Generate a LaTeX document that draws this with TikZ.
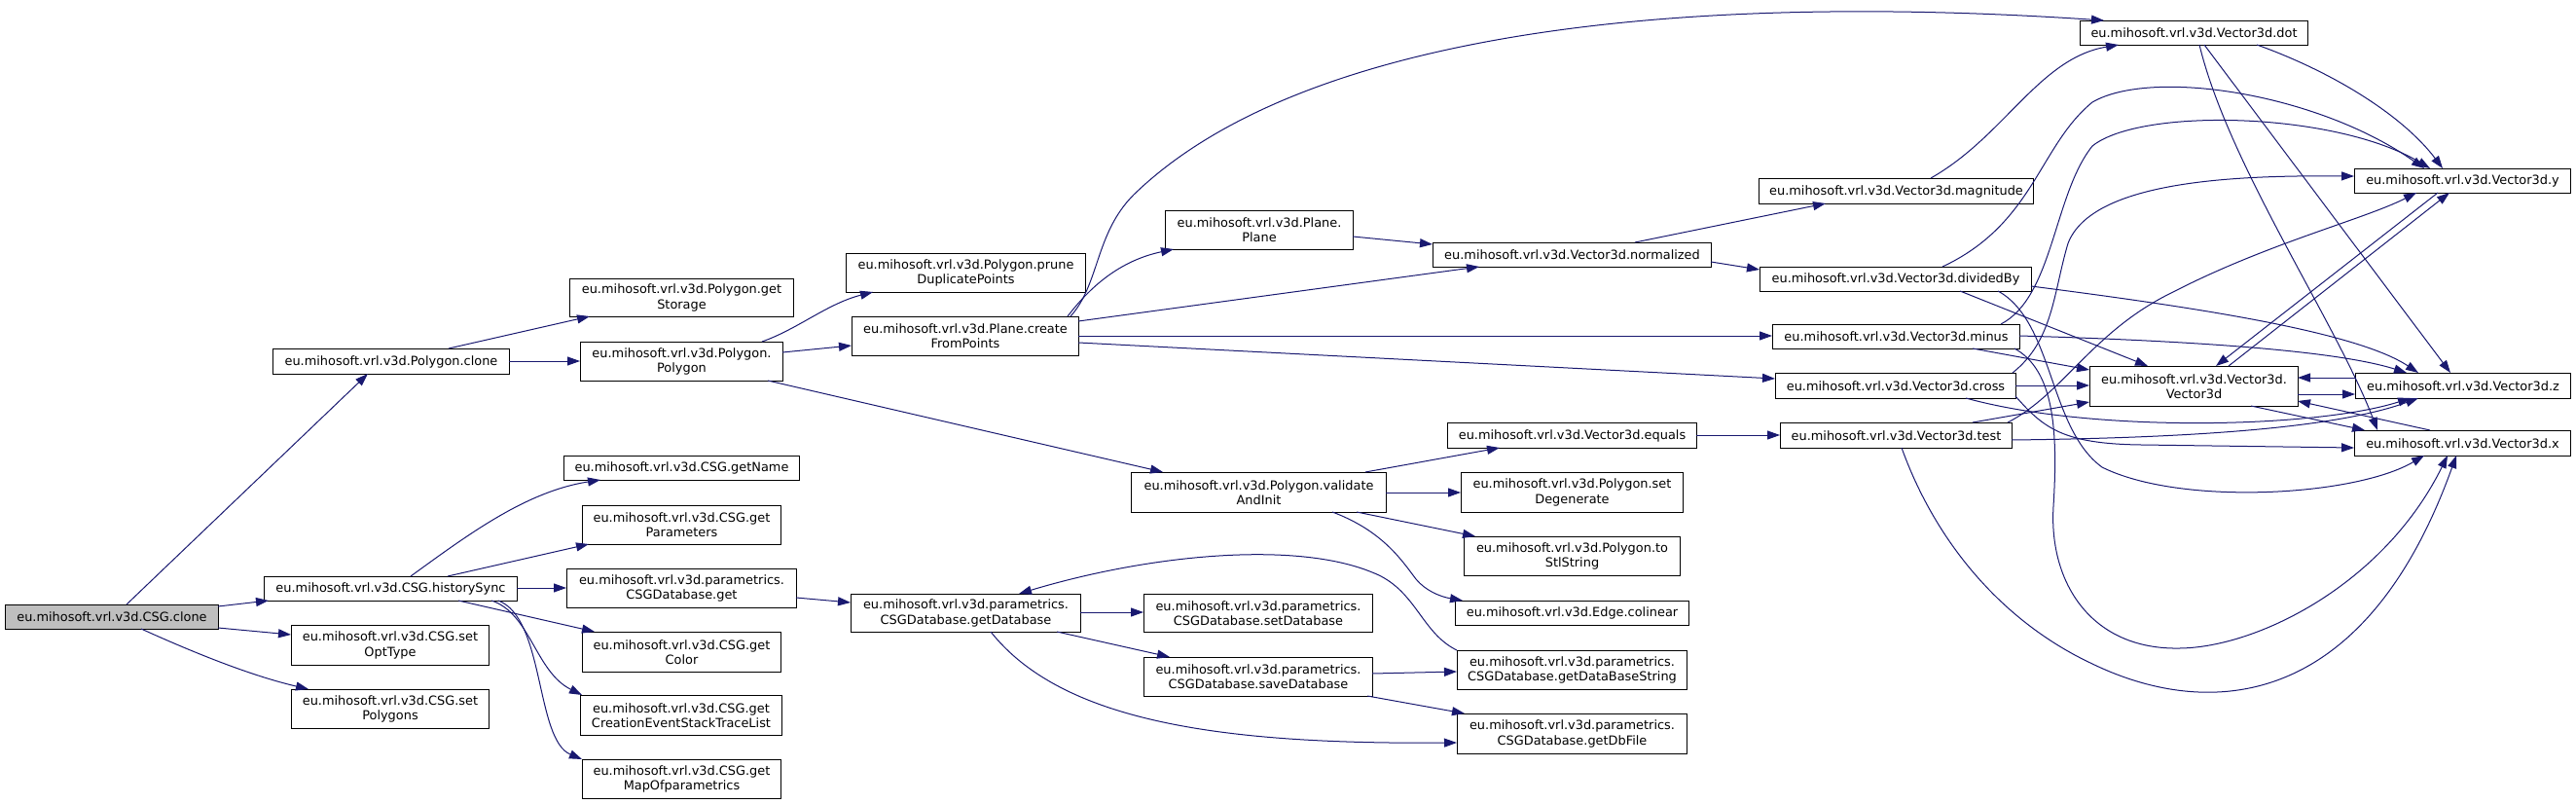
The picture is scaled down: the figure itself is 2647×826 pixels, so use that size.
\documentclass[tikz,border=0pt]{standalone}
\usepackage{fontspec}
\setmainfont{DejaVu Sans}
\usetikzlibrary{arrows.meta,calc}
\definecolor{edgeblue}{HTML}{191970}
\definecolor{rootgray}{HTML}{BFBFBF}
\begin{document}
\begin{tikzpicture}[x=1pt,y=-1pt,
  box/.style={draw=black, line width=1pt, fill=white, inner sep=0pt, align=center, anchor=north west, font=\fontsize{12.9}{15.3}\selectfont},
  root/.style={box, fill=rootgray},
  edge/.style={draw=edgeblue, line width=1pt, -{Triangle[length=13pt,width=9pt]}}]
\useasboundingbox (0,0) rectangle (2647,826);

% nodes
\node[root, minimum width=219pt, minimum height=25pt] (csgclone) at (5,621) {eu.mihosoft.vrl.v3d.CSG.clone};
\node[box, minimum width=243pt, minimum height=26pt] (polyclone) at (280,358) {eu.mihosoft.vrl.v3d.Polygon.clone};
\node[box, minimum width=260pt, minimum height=25pt] (hist) at (271,592) {eu.mihosoft.vrl.v3d.CSG.historySync};
\node[box, minimum width=203pt, minimum height=41pt] (setopt) at (299,642) {eu.mihosoft.vrl.v3d.CSG.set\\OptType};
\node[box, minimum width=203pt, minimum height=40pt] (setpoly) at (299,708) {eu.mihosoft.vrl.v3d.CSG.set\\Polygons};
\node[box, minimum width=230pt, minimum height=39pt] (getstorage) at (585,286) {eu.mihosoft.vrl.v3d.Polygon.get\\Storage};
\node[box, minimum width=208pt, minimum height=40pt] (polypoly) at (596,351) {eu.mihosoft.vrl.v3d.Polygon.\\Polygon};
\node[box, minimum width=246pt, minimum height=40pt] (prune) at (869,260) {eu.mihosoft.vrl.v3d.Polygon.prune\\DuplicatePoints};
\node[box, minimum width=233pt, minimum height=40pt] (create) at (875,325) {eu.mihosoft.vrl.v3d.Plane.create\\FromPoints};
\node[box, minimum width=262pt, minimum height=41pt] (validate) at (1162,485) {eu.mihosoft.vrl.v3d.Polygon.validate\\AndInit};
\node[box, minimum width=193pt, minimum height=40pt] (plane) at (1197,216) {eu.mihosoft.vrl.v3d.Plane.\\Plane};
\node[box, minimum width=286pt, minimum height=25pt] (normalized) at (1472,249) {eu.mihosoft.vrl.v3d.Vector3d.normalized};
\node[box, minimum width=282pt, minimum height=26pt] (magnitude) at (1807,183) {eu.mihosoft.vrl.v3d.Vector3d.magnitude};
\node[box, minimum width=279pt, minimum height=25pt] (dividedby) at (1808,274) {eu.mihosoft.vrl.v3d.Vector3d.dividedBy};
\node[box, minimum width=254pt, minimum height=25pt] (minus) at (1821,333) {eu.mihosoft.vrl.v3d.Vector3d.minus};
\node[box, minimum width=247pt, minimum height=26pt] (cross) at (1824,383) {eu.mihosoft.vrl.v3d.Vector3d.cross};
\node[box, minimum width=238pt, minimum height=26pt] (test) at (1829,434) {eu.mihosoft.vrl.v3d.Vector3d.test};
\node[box, minimum width=256pt, minimum height=26pt] (equals) at (1487,434) {eu.mihosoft.vrl.v3d.Vector3d.equals};
\node[box, minimum width=228pt, minimum height=41pt] (setdegen) at (1501,485) {eu.mihosoft.vrl.v3d.Polygon.set\\Degenerate};
\node[box, minimum width=222pt, minimum height=40pt] (tostl) at (1504,551) {eu.mihosoft.vrl.v3d.Polygon.to\\StlString};
\node[box, minimum width=240pt, minimum height=25pt] (colinear) at (1495,617) {eu.mihosoft.vrl.v3d.Edge.colinear};
\node[box, minimum width=234pt, minimum height=25pt] (dot) at (2137,21) {eu.mihosoft.vrl.v3d.Vector3d.dot};
\node[box, minimum width=222pt, minimum height=25pt] (vy) at (2419,173) {eu.mihosoft.vrl.v3d.Vector3d.y};
\node[box, minimum width=214pt, minimum height=41pt] (vconst) at (2147,376) {eu.mihosoft.vrl.v3d.Vector3d.\\Vector3d};
\node[box, minimum width=221pt, minimum height=26pt] (vz) at (2420,383) {eu.mihosoft.vrl.v3d.Vector3d.z};
\node[box, minimum width=222pt, minimum height=26pt] (vx) at (2419,442) {eu.mihosoft.vrl.v3d.Vector3d.x};
\node[box, minimum width=242pt, minimum height=25pt] (getname) at (579,468) {eu.mihosoft.vrl.v3d.CSG.getName};
\node[box, minimum width=204pt, minimum height=40pt] (getparams) at (598,519) {eu.mihosoft.vrl.v3d.CSG.get\\Parameters};
\node[box, minimum width=236pt, minimum height=40pt] (dbget) at (582,584) {eu.mihosoft.vrl.v3d.parametrics.\\CSGDatabase.get};
\node[box, minimum width=204pt, minimum height=41pt] (getcolor) at (598,649) {eu.mihosoft.vrl.v3d.CSG.get\\Color};
\node[box, minimum width=207pt, minimum height=41pt] (getcreation) at (596,714) {eu.mihosoft.vrl.v3d.CSG.get\\CreationEventStackTraceList};
\node[box, minimum width=204pt, minimum height=40pt] (getmap) at (598,780) {eu.mihosoft.vrl.v3d.CSG.get\\MapOfparametrics};
\node[box, minimum width=236pt, minimum height=39pt] (getdatabase) at (874,610) {eu.mihosoft.vrl.v3d.parametrics.\\CSGDatabase.getDatabase};
\node[box, minimum width=235pt, minimum height=39pt] (setdatabase) at (1175,610) {eu.mihosoft.vrl.v3d.parametrics.\\CSGDatabase.setDatabase};
\node[box, minimum width=235pt, minimum height=40pt] (savedatabase) at (1175,675) {eu.mihosoft.vrl.v3d.parametrics.\\CSGDatabase.saveDatabase};
\node[box, minimum width=236pt, minimum height=40pt] (getdbstring) at (1497,668) {eu.mihosoft.vrl.v3d.parametrics.\\CSGDatabase.getDataBaseString};
\node[box, minimum width=236pt, minimum height=41pt] (getdbfile) at (1497,733) {eu.mihosoft.vrl.v3d.parametrics.\\CSGDatabase.getDbFile};

% edges from CSG.clone
\draw[edge] ($(csgclone.north west)+(125,0)$) -- ($(polyclone.north west)+(98,26)$);
\draw[edge] ($(csgclone.north west)+(219,2)$) -- ($(hist.north west)+(5,25)$);
\draw[edge] ($(csgclone.north west)+(219,24)$) -- ($(setopt.north west)+(0,10)$);
\draw[edge] ($(csgclone.north west)+(140,25)$) .. controls (220,680) and (270,697) .. ($(setpoly.north west)+(18,0)$);

% Polygon.clone
\draw[edge] ($(polyclone.north west)+(181,0)$) -- ($(getstorage.north west)+(21,39)$);
\draw[edge] ($(polyclone.north west)+(243,13)$) -- ($(polypoly.north west)+(0,20)$);

% Polygon.Polygon
\draw[edge] ($(polypoly.north west)+(187,0)$) .. controls (820,338) and (850,312) .. ($(prune.north west)+(28,40)$);
\draw[edge] ($(polypoly.north west)+(208,11)$) -- ($(create.north west)+(0,30)$);
\draw[edge] ($(polypoly.north west)+(193,40)$) -- ($(validate.north west)+(33,0)$);

% Plane.createFromPoints
\draw[edge] ($(create.north west)+(222,0)$) .. controls (1120,295) and (1150,268) .. ($(plane.north west)+(9,40)$);
\draw[edge] ($(create.north west)+(225,0)$) .. controls (1130,292) and (1125,240) .. (1165,200)
  .. controls (1330,40) and (1700,-10) .. ($(dot.north west)+(25,0)$);
\draw[edge] ($(create.north west)+(233,5)$) -- ($(normalized.north west)+(48,25)$);
\draw[edge] ($(create.north west)+(233,20)$) -- ($(minus.north west)+(0,12)$);
\draw[edge] ($(create.north west)+(233,27)$) -- ($(cross.north west)+(0,6)$);

% Plane.Plane
\draw[edge] ($(plane.north west)+(193,27)$) -- ($(normalized.north west)+(0,2)$);

% normalized
\draw[edge] ($(normalized.north west)+(208,0)$) -- ($(magnitude.north west)+(69,26)$);
\draw[edge] ($(normalized.north west)+(286,20)$) -- ($(dividedby.north west)+(0,3)$);

% magnitude
\draw[edge] ($(magnitude.north west)+(177,0)$) .. controls (2060,140) and (2095,60) .. ($(dot.north west)+(40,25)$);

% dot
\draw[edge] ($(dot.north west)+(182,25)$) .. controls (2400,75) and (2470,120) .. ($(vy.north west)+(91,0)$);
\draw[edge] ($(dot.north west)+(123,25)$) .. controls (2290,170) and (2400,330) .. ($(vx.north west)+(24,0)$);
\draw[edge] ($(dot.north west)+(128,25)$) -- ($(vz.north west)+(98,0)$);

% dividedBy
\draw[edge] ($(dividedby.north west)+(188,0)$) .. controls (2090,230) and (2095,150) .. (2150,105)
  .. controls (2210,70) and (2380,95) .. ($(vy.north west)+(72,0)$);
\draw[edge] ($(dividedby.north west)+(206,25)$) -- ($(vconst.north west)+(60,0)$);
\draw[edge] ($(dividedby.north west)+(279,20)$) .. controls (2250,315) and (2420,340) .. ($(vz.north west)+(65,0)$);
\draw[edge] ($(dividedby.north west)+(245,25)$) .. controls (2110,330) and (2105,440) .. (2160,480)
  .. controls (2240,520) and (2420,510) .. ($(vx.north west)+(72,26)$);

% minus
\draw[edge] ($(minus.north west)+(235,0)$) .. controls (2110,305) and (2110,200) .. (2150,150)
  .. controls (2200,110) and (2400,115) .. ($(vy.north west)+(78,0)$);
\draw[edge] ($(minus.north west)+(206,25)$) -- ($(vconst.north west)+(0,4)$);
\draw[edge] ($(minus.north west)+(254,12)$) .. controls (2250,350) and (2400,360) .. ($(vz.north west)+(53,0)$);
\draw[edge] ($(minus.north west)+(249,25)$) .. controls (2110,380) and (2115,440) .. (2110,520)
  .. controls (2105,600) and (2150,668) .. (2240,666)
  .. controls (2320,665) and (2450,600) .. ($(vx.north west)+(96,26)$);

% cross
\draw[edge] ($(cross.north west)+(247,13)$) -- ($(vconst.north west)+(0,20)$);
\draw[edge] ($(cross.north west)+(244,0)$) .. controls (2110,350) and (2110,300) .. (2125,250)
  .. controls (2150,185) and (2300,180) .. ($(vy.north west)+(0,8)$);
\draw[edge] ($(cross.north west)+(196,26)$) .. controls (2150,445) and (2380,440) .. ($(vz.north west)+(57,26)$);
\draw[edge] ($(cross.north west)+(247,24)$) .. controls (2100,440) and (2120,456) .. (2200,457) -- ($(vx.north west)+(0,18)$);

% test
\draw[edge] ($(test.north west)+(198,0)$) -- ($(vconst.north west)+(0,37)$);
\draw[edge] ($(test.north west)+(234,0)$) .. controls (2120,405) and (2150,340) .. (2233,300)
  .. controls (2330,250) and (2430,225) .. ($(vy.north west)+(64,25)$);
\draw[edge] ($(test.north west)+(238,18)$) .. controls (2250,450) and (2400,440) .. ($(vz.north west)+(65,26)$);
\draw[edge] ($(test.north west)+(125,26)$) .. controls (1990,560) and (2060,640) .. (2150,682)
  .. controls (2270,740) and (2430,730) .. ($(vx.north west)+(105,26)$);

% Vector3d constructor and accessors
\draw[edge] ($(vy.north west)+(86,25)$) -- ($(vconst.north west)+(130,0)$);
\draw[edge] ($(vconst.north west)+(143,0)$) -- ($(vy.north west)+(98,25)$);
\draw[edge] ($(vz.north west)+(0,5)$) -- ($(vconst.north west)+(214,12)$);
\draw[edge] ($(vconst.north west)+(214,29)$) -- ($(vz.north west)+(0,22)$);
\draw[edge] ($(vconst.north west)+(166,41)$) -- ($(vx.north west)+(11,0)$);
\draw[edge] ($(vx.north west)+(78,0)$) -- ($(vconst.north west)+(214,36)$);

% validateAndInit
\draw[edge] ($(validate.north west)+(241,0)$) -- ($(equals.north west)+(54,26)$);
\draw[edge] ($(validate.north west)+(262,21)$) -- ($(setdegen.north west)+(0,21)$);
\draw[edge] ($(validate.north west)+(232,41)$) -- ($(tostl.north west)+(12,0)$);
\draw[edge] ($(validate.north west)+(207,41)$) .. controls (1420,545) and (1440,575) .. (1455,595)
  .. controls (1465,607) and (1480,613) .. ($(colinear.north west)+(8,0)$);
\draw[edge] ($(equals.north west)+(256,13)$) -- ($(test.north west)+(0,13)$);

% historySync
\draw[edge] ($(hist.north west)+(151,0)$) .. controls (480,550) and (540,505) .. ($(getname.north west)+(38,25)$);
\draw[edge] ($(hist.north west)+(189,0)$) -- ($(getparams.north west)+(7,40)$);
\draw[edge] ($(hist.north west)+(260,12)$) -- ($(dbget.north west)+(0,20)$);
\draw[edge] ($(hist.north west)+(200,25)$) -- ($(getcolor.north west)+(13,0)$);
\draw[edge] ($(hist.north west)+(234,25)$) .. controls (545,630) and (550,690) .. ($(getcreation.north west)+(2,0)$);
\draw[edge] ($(hist.north west)+(241,25)$) .. controls (560,635) and (550,760) .. (getmap.north west);

% CSGDatabase
\draw[edge] ($(dbget.north west)+(236,30)$) -- ($(getdatabase.north west)+(0,9)$);
\draw[edge] ($(getdatabase.north west)+(236,19)$) -- ($(setdatabase.north west)+(0,19)$);
\draw[edge] ($(getdatabase.north west)+(212,39)$) -- ($(savedatabase.north west)+(27,0)$);
\draw[edge] ($(getdatabase.north west)+(144,39)$) .. controls (1090,740) and (1250,765) .. ($(getdbfile.north west)+(0,30)$);
\draw[edge] ($(savedatabase.north west)+(235,17)$) -- ($(getdbstring.north west)+(0,22)$);
\draw[edge] ($(savedatabase.north west)+(230,40)$) -- ($(getdbfile.north west)+(8,0)$);
\draw[edge] (getdbstring.north west) .. controls (1460,650) and (1455,605) .. (1410,588)
  .. controls (1330,555) and (1180,570) .. ($(getdatabase.north west)+(173,0)$);
\end{tikzpicture}
\end{document}
